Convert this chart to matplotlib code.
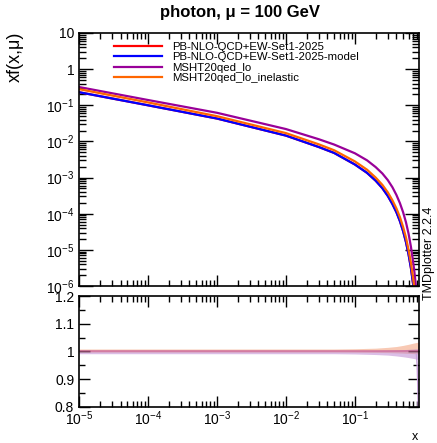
import numpy as np
import matplotlib; matplotlib.use("Agg")
import matplotlib.pyplot as plt
from matplotlib.ticker import LogLocator, FixedLocator, NullFormatter, FuncFormatter

plt.rcParams['font.family'] = ['Liberation Sans', 'DejaVu Sans']
plt.rcParams['mathtext.fontset'] = 'custom'
plt.rcParams['mathtext.rm'] = 'Liberation Sans'
plt.rcParams['mathtext.it'] = 'Liberation Sans:italic'

# ---- data ----
x = [1e-5, 1e-4, 1e-3, 1e-2, 0.03, 0.05, 0.1, 0.15, 0.2, 0.25, 0.3, 0.35, 0.4,
     0.45, 0.5, 0.55, 0.6, 0.65, 0.7, 0.73, 0.77, 0.8]
pb_set1 = [0.23, 0.10, 0.043, 0.0145, 0.007, 0.0048, 2.3e-3, 1.35e-3, 8.2e-4, 5.1e-4, 3.1e-4,
           1.85e-4, 1.1e-4, 6.2e-5, 3.3e-5, 1.65e-5, 7.5e-6, 3.1e-6, 1.1e-6, 5.5e-7, 2e-7, 7e-8]
pb_model = [0.23, 0.10, 0.043, 0.0145, 0.007, 0.0048, 2.3e-3, 1.35e-3, 8.2e-4, 5.1e-4, 3.1e-4,
            1.85e-4, 1.1e-4, 6.2e-5, 3.3e-5, 1.65e-5, 7.5e-6, 3.1e-6, 1.1e-6, 5.5e-7, 2e-7, 7e-8]
msht_lo = [0.32, 0.14, 0.062, 0.022, 0.0115, 0.0082, 4.7e-3, 3.0e-3, 1.95e-3, 1.3e-3, 8.5e-4,
           5.4e-4, 3.3e-4, 1.95e-4, 1.1e-4, 5.8e-5, 2.8e-5, 1.2e-5, 4.5e-6, 2.4e-6, 9e-7, 3.5e-7]
msht_inel = [0.28, 0.12, 0.05, 0.017, 0.0083, 0.0057, 2.8e-3, 1.65e-3, 1.0e-3, 6.3e-4, 3.9e-4,
             2.35e-4, 1.4e-4, 8e-5, 4.3e-5, 2.2e-5, 1.0e-5, 4.3e-6, 1.6e-6, 8e-7, 3e-7, 1e-7]

labels = ["PB-NLO-QCD+EW-Set1-2025", "PB-NLO-QCD+EW-Set1-2025-model",
          "MSHT20qed_lo", "MSHT20qed_lo_inelastic"]
colors = ["#ff0000", "#0000ff", "#990099", "#ff6600"]

# ratio panel: uncertainty bands (half widths) and the dropping tail
xr = [1e-5, 1e-4, 1e-3, 1e-2, 0.05, 0.1, 0.2, 0.3, 0.4, 0.5, 0.6, 0.7, 0.8, 0.85]
band_up = [0.009, 0.009, 0.009, 0.009, 0.009, 0.01, 0.012, 0.015, 0.018, 0.022, 0.026, 0.03, 0.033, 0.035]
band_lo = [0.008, 0.008, 0.008, 0.008, 0.008, 0.009, 0.011, 0.013, 0.016, 0.019, 0.022, 0.025, 0.028, 0.03]
tail_x = [0.78, 0.80, 0.815, 0.825]
tail_y = [0.99, 0.95, 0.88, 0.80]

fig = plt.figure(figsize=(4.37, 4.43), dpi=100)
ax = fig.add_axes([79/437, 1-286/443, 340/437, 253/443])
axr = fig.add_axes([79/437, 1-407/443, 340/437, 111/443])

for v, lab, c in zip([pb_set1, pb_model, msht_lo, msht_inel], labels, colors):
    ax.plot(x, v, color=c, lw=1.6, label=lab)

ax.set_xscale("log"); ax.set_yscale("log")
ax.set_xlim(1e-5, 0.85); ax.set_ylim(1e-6, 10)
axr.set_xscale("log"); axr.set_xlim(1e-5, 0.85); axr.set_ylim(0.8, 1.2)

bu = np.array(band_up); bl = np.array(band_lo)
axr.fill_between(xr, 1 - 0.3 * bl, 1 + bu, color="#f4a582", alpha=0.6, lw=0)
axr.fill_between(xr, 1 - bl, 1 + 0.3 * bu, color="#b070c8", alpha=0.45, lw=0)
axr.plot(xr, [1.0] * len(xr), color="#cc6699", lw=1.2, alpha=0.8)
axr.plot(tail_x, tail_y, color="#c9a0dc", lw=1.0)

def ylog_fmt(v, pos):
    if abs(v - 1) < 1e-9: return "1"
    if abs(v - 10) < 1e-9: return "10"
    return r"$10^{%d}$" % round(np.log10(v))

for a in (ax, axr):
    a.tick_params(which="both", direction="in", top=True, right=True, width=1.0, colors="k")
    a.tick_params(which="major", length=8, labelsize=10)
    a.tick_params(which="minor", length=4)
    for s in a.spines.values(): s.set_linewidth(1.2)
    a.xaxis.set_major_locator(LogLocator(base=10, numticks=10))
    a.xaxis.set_minor_locator(LogLocator(base=10, subs=np.arange(2, 10), numticks=10))
    a.xaxis.set_minor_formatter(NullFormatter())

ax.yaxis.set_major_locator(LogLocator(base=10, numticks=10))
ax.yaxis.set_minor_locator(LogLocator(base=10, subs=np.arange(2, 10), numticks=10))
ax.yaxis.set_major_formatter(FuncFormatter(ylog_fmt))
ax.yaxis.set_minor_formatter(NullFormatter())
ax.tick_params(axis="x", labelbottom=False)
ax.tick_params(axis="y", which="major", length=10)
ax.tick_params(axis="y", which="minor", length=5)

axr.yaxis.set_major_locator(FixedLocator([0.8, 0.9, 1.0, 1.1, 1.2]))
axr.yaxis.set_minor_locator(FixedLocator([0.85, 0.95, 1.05, 1.15]))
axr.set_yticklabels(["0.8", "0.9", "1", "1.1", "1.2"])
axr.xaxis.set_major_formatter(FuncFormatter(lambda v, p: r"$10^{%d}$" % round(np.log10(v))))
axr.tick_params(axis="x", pad=2)

ax.legend(loc="upper left", bbox_to_anchor=(0.08, 0.995), frameon=False, fontsize=8.2,
          handlelength=4.2, handletextpad=0.85, labelspacing=0.02, borderaxespad=0.3)

fig.text(240/437, 1-12/443, "photon, μ = 100 GeV", ha="center", va="center", fontsize=12, fontweight="bold")
fig.text(15/437, 1-57/443, "xf(x,μ)", rotation=90, ha="center", va="center", fontsize=13)
fig.text(415/437, 1-437/443, "x", ha="center", va="center", fontsize=9)
fig.text(429/437, 1-300/443, "TMDplotter 2.2.4", rotation=90, ha="center", va="bottom", fontsize=9)

fig.savefig("out.png", dpi=100)
